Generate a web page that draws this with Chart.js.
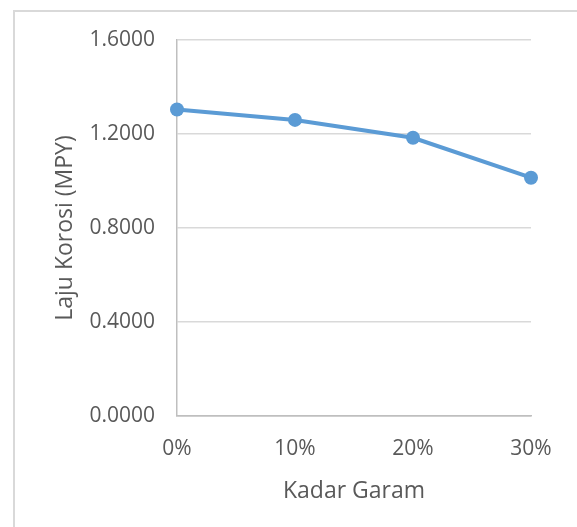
<!DOCTYPE html>
<html>
<head>
<meta charset="utf-8">
<script src="https://cdn.jsdelivr.net/npm/chart.js@4"></script>
<style>
  html, body { margin: 0; padding: 0; background: #fff; overflow: hidden; }
  #wrap { position: relative; width: 577px; height: 527px; }
  #frame { position: absolute; left: 13px; top: 10px; width: 700px; height: 700px;
           border: 2px solid #d9d9d9; box-sizing: border-box; }
  #myChart { position: absolute; left: 0; top: 0; }
</style>
</head>
<body>
<div id="wrap">
  <div id="frame"></div>
  <canvas id="myChart" width="577" height="527"></canvas>
</div>
<script>
// salt content on x, corrosion rate on y
var kadarGaram = ['0%', '10%', '20%', '30%'];
var lajuKorosi = [1.304, 1.260, 1.184, 1.014];
var yTicks = [0, 0.4, 0.8, 1.2, 1.6];

var fontFamily = "'Open Sans', 'Noto Sans', sans-serif";
var textColor = '#595959';

var ctx = document.getElementById('myChart').getContext('2d');
var chart = new Chart(ctx, {
    type: 'line',
    data: {
        labels: kadarGaram,
        datasets: [{
            label: 'Laju Korosi',
            data: lajuKorosi,
            borderColor: '#5b9bd5',
            backgroundColor: '#5b9bd5',
            borderWidth: 4,
            pointRadius: 7,
            pointHoverRadius: 7,
            pointBorderWidth: 0,
            tension: 0,
            clip: false
        }]
    },
    options: {
        responsive: false,
        animation: false,
        devicePixelRatio: 1,
        layout: { padding: { top: 40, right: 46, left: 0, bottom: 0 } },
        plugins: {
            legend: { display: false },
            tooltip: { enabled: false }
        },
        scales: {
            x: {
                type: 'category',
                offset: false,
                grid: { display: false, drawTicks: false },
                border: { display: true, color: '#bfbfbf', width: 1.5 },
                ticks: {
                    color: textColor,
                    font: { family: fontFamily, size: 21 },
                    padding: 20,
                    maxRotation: 0
                },
                title: {
                    display: true,
                    text: 'Kadar Garam',
                    color: textColor,
                    font: { family: fontFamily, size: 23 },
                    padding: { top: 0, bottom: 22 }
                },
                afterFit: function (scale) { scale.height = 111; }
            },
            y: {
                min: yTicks[0],
                max: yTicks[yTicks.length - 1],
                afterBuildTicks: function (scale) {
                    scale.ticks = yTicks.map(function (v) { return { value: v }; });
                },
                grid: {
                    drawTicks: false,
                    lineWidth: 1.5,
                    color: function (c) { return c.tick && c.tick.value === 0 ? '#bfbfbf' : '#d9d9d9'; }
                },
                border: { display: true, color: '#bfbfbf', width: 1.5 },
                ticks: {
                    color: textColor,
                    font: { family: fontFamily, size: 21 },
                    padding: 22,
                    callback: function (v) { return Number(v).toFixed(4); }
                },
                title: {
                    display: true,
                    text: 'Laju Korosi (MPY)',
                    color: textColor,
                    font: { family: fontFamily, size: 23 },
                    padding: { top: 52, bottom: 0 }
                },
                afterFit: function (scale) { scale.width = 177; }
            }
        }
    }
});
</script>
</body>
</html>
